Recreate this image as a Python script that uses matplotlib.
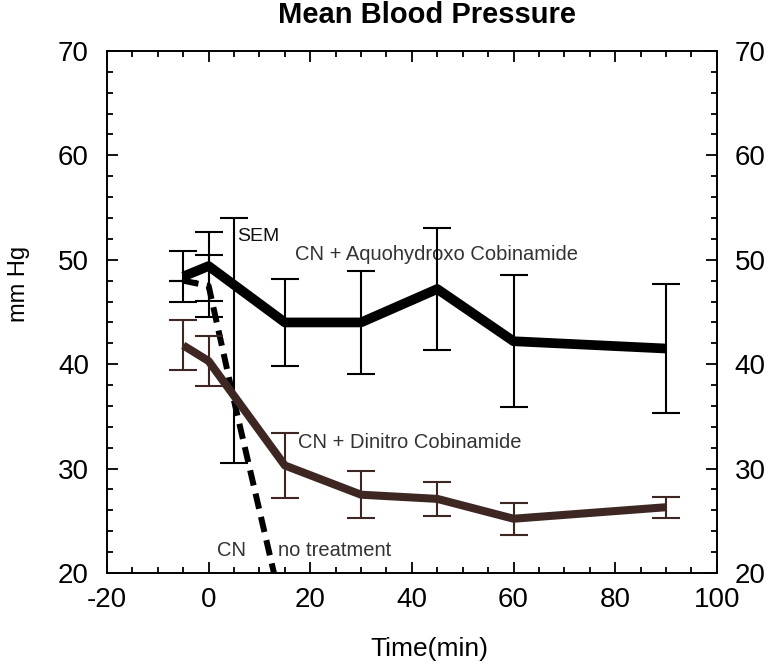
import matplotlib
matplotlib.use('Agg')
import matplotlib.pyplot as plt
from matplotlib.ticker import MultipleLocator

plt.rcParams['font.family'] = ['Liberation Sans', 'DejaVu Sans']
plt.rcParams['axes.unicode_minus'] = False

# CN + Aquohydroxo Cobinamide
time_aquo = [-5, 0, 15, 30, 45, 60, 90]
bp_aquo = [48.4, 49.4, 44.0, 44.0, 47.2, 42.2, 41.5]
sem_aquo = [2.4, 3.3, 4.2, 4.9, 5.8, 6.3, 6.2]

# CN + Dinitro Cobinamide
time_dinitro = [-5, 0, 15, 30, 45, 60, 90]
bp_dinitro = [41.8, 40.3, 30.3, 27.5, 27.1, 25.2, 26.3]
sem_dinitro = [2.4, 2.4, 3.15, 2.25, 1.6, 1.55, 1.0]

# CN, no treatment
time_cn = [-5, 0, 5, 15]
bp_cn = [48.0, 47.5, 36.5, 15.5]
sem_cn_low = [0.0, 3.0, 6.0, 0.0]
sem_cn_high = [0.0, 3.0, 17.5, 0.0]

brown = '#3e2723'
grey_text = '#333333'

fig = plt.figure(figsize=(7.67, 6.68), dpi=100)
ax = fig.add_axes([0.1395, 0.1422, 0.795, 0.7815])

# no treatment, dashed
ax.plot(time_cn, bp_cn, color='black', lw=4.3, dashes=(2.6, 1.4),
        dash_capstyle='butt', zorder=2)
ax.errorbar(time_cn, bp_cn, yerr=[sem_cn_low, sem_cn_high], fmt='none',
            ecolor='black', elinewidth=1.5, capsize=10, capthick=1.5, zorder=2)

# dinitro
ax.plot(time_dinitro, bp_dinitro, color=brown, lw=5.8, solid_capstyle='butt',
        zorder=3)
ax.errorbar(time_dinitro, bp_dinitro, yerr=sem_dinitro, fmt='none',
            ecolor=brown, elinewidth=1.5, capsize=10, capthick=1.5, zorder=3)

# aquohydroxo
ax.plot(time_aquo, bp_aquo, color='black', lw=7, solid_capstyle='butt',
        zorder=4)
ax.errorbar(time_aquo, bp_aquo, yerr=sem_aquo, fmt='none',
            ecolor='black', elinewidth=1.5, capsize=10, capthick=1.5, zorder=4)

ax.text(5.6, 52.2, 'SEM', fontsize=14, color='#111111', va='center', ha='left')
ax.text(17.0, 50.5, 'CN + Aquohydroxo Cobinamide', fontsize=14.5,
        color=grey_text, va='center', ha='left')
ax.text(17.6, 32.5, 'CN + Dinitro Cobinamide', fontsize=14.5,
        color=grey_text, va='center', ha='left')
ax.text(1.6, 22.2, 'CN', fontsize=14.5, color=grey_text, va='center', ha='left')
ax.text(13.6, 22.2, 'no treatment', fontsize=14.5, color=grey_text,
        va='center', ha='left')

ax.set_xlim(-20, 100)
ax.set_ylim(20, 70)
ax.xaxis.set_major_locator(MultipleLocator(20))
ax.xaxis.set_minor_locator(MultipleLocator(5))
ax.yaxis.set_major_locator(MultipleLocator(10))
ax.yaxis.set_minor_locator(MultipleLocator(2))

ax.tick_params(which='both', direction='in', top=True, right=True,
               width=1.3, labelsize=20, labelright=True)
ax.tick_params(which='major', length=8)
ax.tick_params(which='minor', length=4.5)
ax.tick_params(axis='x', pad=10)
ax.tick_params(axis='y', pad=13)
for sp in ax.spines.values():
    sp.set_linewidth(1.4)

ax.set_title('Mean Blood Pressure', fontsize=21, fontweight='bold',
             x=0.525, pad=20)
ax.set_xlabel('Time(min)', fontsize=19)
ax.xaxis.set_label_coords(0.528, -0.122)
ax.set_ylabel('mm Hg', fontsize=17)
ax.yaxis.set_label_coords(-0.126, 0.554)

fig.savefig('out.png', dpi=100)
